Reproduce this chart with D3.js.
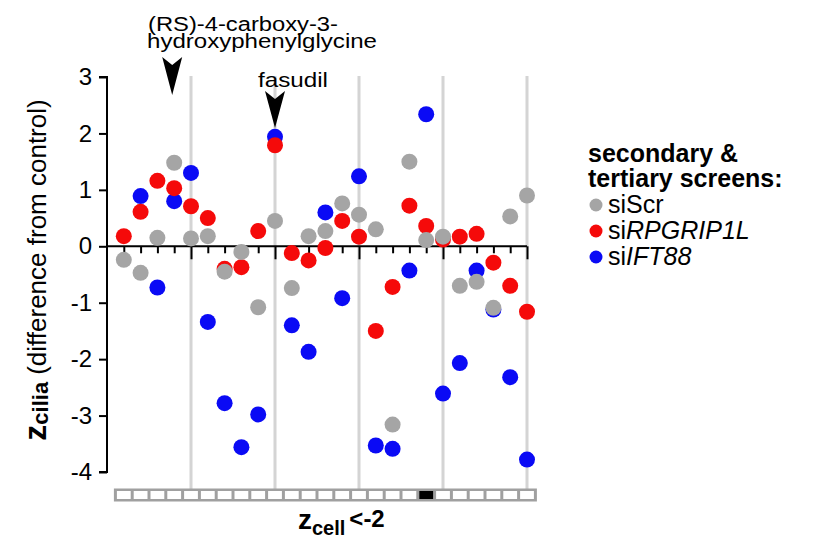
<!DOCTYPE html>
<html>
<head>
<meta charset="utf-8">
<script src="https://cdn.jsdelivr.net/npm/d3@7"></script>
<style>
  body { margin: 0; background: #fff; }
  svg { font-family: "Liberation Sans", Arial, sans-serif; }
</style>
</head>
<body>
<svg id="chart" width="834" height="539"></svg>
<script>
// compound index 1..25
var compounds = d3.range(1, 26);
// siScr (gray)
var scrValues = [-0.24, -0.47, 0.15, 1.48, 0.14, 0.18, -0.45, -0.10, -1.08, 0.45,
                 -0.74, 0.18, 0.27, 0.76, 0.56, 0.30, -3.16, 1.50, 0.11, 0.17,
                 -0.70, -0.63, -1.09, 0.53, 0.90];
// siRPGRIP1L (red)
var rpgValues = [0.18, 0.61, 1.16, 1.03, 0.71, 0.50, -0.40, -0.37, 0.27, 1.79,
                 -0.12, -0.25, -0.03, 0.45, 0.17, -1.50, -0.72, 0.72, 0.36, 0.12,
                 0.17, 0.22, -0.29, -0.70, -1.16];
// siIFT88 (blue)
var iftValues = [null, 0.89, -0.73, 0.80, 1.30, -1.34, -2.78, -3.56, -2.98, 1.94,
                 -1.40, -1.87, 0.60, -0.92, 1.24, -3.53, -3.59, -0.43, 2.34, -2.61,
                 -2.07, -0.43, -1.12, -2.32, -3.78];
var xTicks = [5, 10, 15, 20, 25];
var yTicks = [3, 2, 1, 0, -1, -2, -3, -4];
var zcellHits = [19];   // compounds with z_cell < -2
var annotations = [
  {index: 4, lines: ["(RS)-4-carboxy-3-", "hydroxyphenylglycine"]},
  {index: 10, lines: ["fasudil"]}
];

var svg = d3.select("#chart");
var x = d3.scaleLinear().domain([0, 25]).range([107, 527]);
var y = d3.scaleLinear().domain([-4, 3]).range([472, 77]);
var R = 8;

// gray guide lines
svg.selectAll(".guide").data(xTicks).enter().append("line")
    .attr("class", "guide")
    .attr("x1", function(d) { return x(d); })
    .attr("x2", function(d) { return x(d); })
    .attr("y1", 76).attr("y2", 489)
    .attr("stroke", "#d4d4d4").attr("stroke-width", 3);

// y axis
var yAxis = d3.axisLeft(y).tickValues(yTicks).tickSize(8).tickPadding(7)
    .tickFormat(d3.format("d"));
var gy = svg.append("g").attr("transform", "translate(107,0)").call(yAxis);
gy.select(".domain").attr("stroke-width", 2).attr("d", "M-8,77H0V472H-8");
gy.selectAll(".tick line").attr("stroke-width", 2);
gy.selectAll(".tick text").attr("font-size", 24).attr("fill", "#000")
    .attr("font-family", "Liberation Sans, Arial, sans-serif")
    .text(function(d) { return d < 0 ? "-" + Math.abs(d) : d; });

// x axis at y = 0
var xAxis = d3.axisBottom(x).tickValues(compounds).tickSize(7).tickFormat("");
var gx = svg.append("g").attr("transform", "translate(0," + y(0) + ")").call(xAxis);
gx.select(".domain").attr("stroke-width", 2).attr("d", "M107,0H527");
gx.selectAll(".tick line").attr("stroke-width", 2)
    .attr("y2", function(d) { return d % 5 === 0 ? 13 : 7; });
gx.selectAll(".xlab").data(xTicks).enter().append("text")
    .attr("x", function(d) { return x(d); })
    .attr("y", 39)
    .attr("text-anchor", "middle")
    .attr("font-size", 24)
    .text(function(d) { return d; });

// dots: blue, then red, then gray on top
var series = [
  {name: "ift", values: iftValues, color: "#0a0af5"},
  {name: "rpg", values: rpgValues, color: "#f50a0a"},
  {name: "scr", values: scrValues, color: "#a5a5a5"}
];
series.forEach(function(s) {
  var pts = compounds.map(function(c, i) { return {c: c, v: s.values[i]}; })
      .filter(function(p) { return p.v !== null; });
  svg.selectAll(".dot_" + s.name).data(pts).enter().append("circle")
      .attr("class", "dot_" + s.name)
      .attr("cx", function(p) { return x(p.c); })
      .attr("cy", function(p) { return y(p.v); })
      .attr("r", R)
      .attr("fill", s.color);
});

// z_cell strip
svg.append("rect")
    .attr("x", x(0.5) - 1.5).attr("y", 488.5)
    .attr("width", x(25.5) - x(0.5) + 3).attr("height", 13)
    .attr("fill", "#a0a0a0");
svg.selectAll(".cell").data(compounds).enter().append("rect")
    .attr("class", "cell")
    .attr("x", function(c) { return x(c - 0.5) + 1.5; })
    .attr("y", 491)
    .attr("width", x(1) - x(0) - 3)
    .attr("height", 8)
    .attr("fill", function(c) { return zcellHits.indexOf(c) >= 0 ? "#000" : "#fff"; });

// x label
var xl = svg.append("text").attr("x", 298).attr("y", 529)
    .attr("font-weight", "bold").attr("font-size", 28);
xl.append("tspan").text("z");
xl.append("tspan").attr("font-size", 20).attr("dy", 6).text("cell");
xl.append("tspan").attr("font-size", 24).attr("dx", 4).attr("dy", -8).text("<-2");

// y label
var yl = svg.append("text")
    .attr("transform", "translate(46,270) rotate(-90)")
    .attr("text-anchor", "middle");
yl.append("tspan").attr("font-weight", "bold").attr("font-size", 32).text("z");
yl.append("tspan").attr("font-weight", "bold").attr("font-size", 22).attr("dy", 2).text("cilia");
yl.append("tspan").attr("font-size", 26).attr("dy", -2).attr("dx", 7).text("(difference from control)");

// annotation arrows
function arrow(cx, top, tip) {
  var p = d3.path();
  p.moveTo(cx - 10, top);
  p.lineTo(cx, top + 8);
  p.lineTo(cx + 10, top);
  p.lineTo(cx, tip);
  p.closePath();
  return p.toString();
}
svg.append("path").attr("d", arrow(x(annotations[0].index) - 2, 57, 95)).attr("fill", "#000");
svg.append("path").attr("d", arrow(x(annotations[1].index), 91, 128)).attr("fill", "#000");

svg.append("text").attr("x", 148).attr("y", 31).attr("font-size", 20)
    .attr("textLength", 190).attr("lengthAdjust", "spacingAndGlyphs")
    .text(annotations[0].lines[0]);
svg.append("text").attr("x", 147).attr("y", 48).attr("font-size", 20)
    .attr("textLength", 230).attr("lengthAdjust", "spacingAndGlyphs")
    .text(annotations[0].lines[1]);
svg.append("text").attr("x", 258).attr("y", 87).attr("font-size", 21)
    .attr("textLength", 70).attr("lengthAdjust", "spacingAndGlyphs")
    .text(annotations[1].lines[0]);

// legend
var legend = svg.append("g").attr("transform", "translate(588,0)");
legend.append("text").attr("x", 0).attr("y", 162).attr("font-weight", "bold")
    .attr("font-size", 25).text("secondary &");
legend.append("text").attr("x", 0).attr("y", 187).attr("font-weight", "bold")
    .attr("font-size", 25).text("tertiary screens:");
var legendItems = [
  {color: "#a5a5a5", parts: [["si", false], ["Scr", false]]},
  {color: "#f50a0a", parts: [["si", false], ["RPGRIP1L", true]]},
  {color: "#0a0af5", parts: [["si", false], ["IFT88", true]]}
];
legendItems.forEach(function(it, i) {
  var yy = 213 + i * 26;
  legend.append("circle").attr("cx", 8).attr("cy", yy - 8).attr("r", 6.5).attr("fill", it.color);
  var t = legend.append("text").attr("x", 20).attr("y", yy).attr("font-size", 25);
  it.parts.forEach(function(p) {
    t.append("tspan").attr("font-style", p[1] ? "italic" : "normal").text(p[0]);
  });
});
</script>
</body>
</html>
